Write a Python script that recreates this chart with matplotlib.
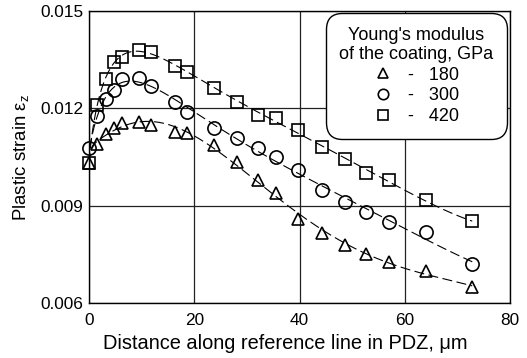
import numpy as np
import matplotlib
matplotlib.use('Agg')
from matplotlib import pyplot as plt
from matplotlib.lines import Line2D

plt.rcParams['font.family'] = ['Liberation Sans', 'DejaVu Sans']
plt.rcParams['mathtext.fontset'] = 'custom'
plt.rcParams['mathtext.rm'] = 'Liberation Sans'
plt.rcParams['mathtext.it'] = 'Liberation Sans:italic'

distance = [0, 1.5, 3.2, 4.7, 6.3, 9.5, 11.8, 16.3, 18.6, 23.7, 28.1,
            32.1, 35.6, 39.7, 44.3, 48.6, 52.7, 57.0, 64.0, 72.8]
strain_180 = [0.0103, 0.01089, 0.0112, 0.01138, 0.01154, 0.01159, 0.01149,
              0.01128, 0.01123, 0.01087, 0.01036, 0.00979, 0.00938, 0.00858,
              0.00817, 0.00779, 0.00751, 0.00727, 0.00697, 0.00648]
strain_300 = [0.01079, 0.01176, 0.01229, 0.01256, 0.0129, 0.01294, 0.0127,
              0.0122, 0.0119, 0.0114, 0.0111, 0.01079, 0.0105, 0.0101,
              0.00948, 0.00912, 0.0088, 0.00849, 0.0082, 0.00719]
strain_420 = [0.01031, 0.0121, 0.0129, 0.01342, 0.01359, 0.0138, 0.01375,
              0.0133, 0.01313, 0.01262, 0.0122, 0.01181, 0.01169, 0.01133,
              0.01082, 0.01043, 0.0100, 0.00979, 0.00917, 0.00851]
moduli = ['180', '300', '420']
markers = ['^', 'o', 's']

fig = plt.figure(figsize=(5.27, 3.58), dpi=100)
ax = fig.add_axes([0.169, 0.154, 0.799, 0.815])

x = np.array(distance)
xs = np.linspace(0, x.max(), 300)
for vals, m in zip([strain_180, strain_300, strain_420], markers):
    # smooth trend line, fitted in sqrt(x) to follow the steep rise near 0
    coef = np.polyfit(np.sqrt(x), vals, 6)
    ax.plot(xs, np.polyval(coef, np.sqrt(xs)), color='black', lw=0.8,
            dashes=(9, 4), zorder=2)
    ms = 9.5 if m == 'o' else 8.5
    ax.plot(x, vals, linestyle='none', marker=m, mfc='none', mec='black',
            mew=1.2, ms=ms, zorder=3, clip_on=False)

ax.set_xlim(0, 80)
ax.set_ylim(0.006, 0.015)
ax.set_xticks([0, 20, 40, 60, 80])
ax.set_yticks([0.006, 0.009, 0.012, 0.015])
ax.set_yticklabels(['0.006', '0.009', '0.012', '0.015'])
ax.tick_params(labelsize=12.4, length=0, pad=4)
ax.tick_params(axis='x', pad=7)
ax.grid(True, color='#222222', lw=0.9)
for s in ax.spines.values():
    s.set_linewidth(1.0)
ax.set_xlabel('Distance along reference line in PDZ, μm', fontsize=14.4)
ax.xaxis.set_label_coords(0.466, -0.105)
ax.set_ylabel('Plastic strain ε$_\\mathrm{z}$', fontsize=13.4, labelpad=7)

handles = [Line2D([], [], linestyle='none', marker=m, mfc='none', mec='black',
                  mew=1.2, ms=7.5) for m in markers]
leg = ax.legend(handles, ['-   ' + v for v in moduli],
                title="Young's modulus\nof the coating, GPa",
                loc='upper right', bbox_to_anchor=(507 / 527, 1 - 13 / 358),
                bbox_transform=fig.transFigure,
                fontsize=13, title_fontsize=13, handlelength=1.0,
                handletextpad=0.9, labelspacing=0.2, borderpad=0.75,
                borderaxespad=0, framealpha=1, edgecolor='black', fancybox=True)
leg.get_frame().set_boxstyle('round,pad=0,rounding_size=0.9')
leg.get_frame().set_linewidth(1.0)
leg.get_title().set_linespacing(1.2)
leg.get_title().set_multialignment('center')

plt.savefig('out.png', dpi=100)
plt.close(fig)
